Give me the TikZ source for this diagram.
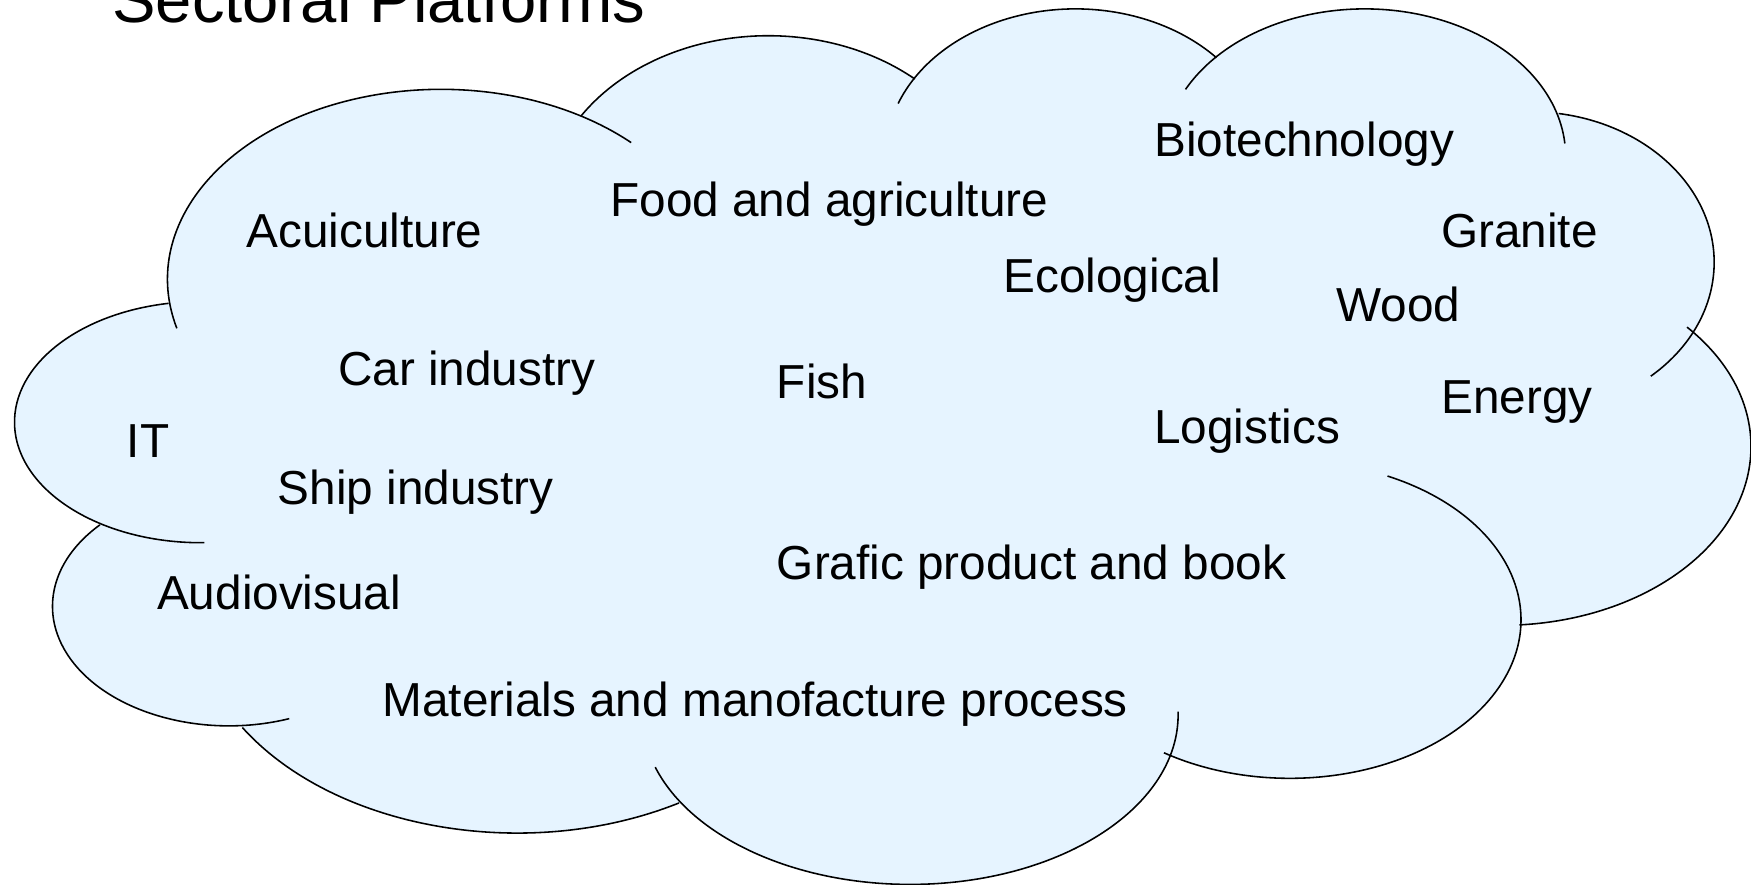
\documentclass[tikz,border=0pt]{standalone}
\usepackage{fontspec}
\setmainfont{Liberation Sans}
\usepackage{tikz}
\usepackage{xcolor}
\usetikzlibrary{positioning}
\definecolor{cloudblue}{RGB}{230,244,255}

\begin{document}
\begin{tikzpicture}[x=0.01cm, y=0.01cm,
                    sector/.style={anchor=base west, inner sep=0pt, font=\fontsize{12.15}{14}\selectfont},
                    rim/.style={black, line width=0.4pt}]
                    % Page size
                    \useasboundingbox (0,0) rectangle (1568,-792);

                    % Fill the cloud: one ellipse per lobe plus the middle
                    \fill[cloudblue] (395,-250) ellipse [x radius=245, y radius=170];
                    \fill[cloudblue] (688,-190) ellipse [x radius=200, y radius=158];
                    \fill[cloudblue] (963,-140) ellipse [x radius=170, y radius=132];
                    \fill[cloudblue] (1222,-140) ellipse [x radius=180, y radius=132];
                    \fill[cloudblue] (1370,-235) ellipse [x radius=165, y radius=135];
                    \fill[cloudblue] (1345,-400) ellipse [x radius=223, y radius=160];
                    \fill[cloudblue] (1155,-555) ellipse [x radius=207, y radius=142];
                    \fill[cloudblue] (815,-640) ellipse [x radius=240, y radius=152];
                    \fill[cloudblue] (463,-545) ellipse [x radius=290, y radius=201];
                    \fill[cloudblue] (205,-543) ellipse [x radius=158, y radius=107];
                    \fill[cloudblue] (180,-378) ellipse [x radius=167, y radius=108];
                    \fill[cloudblue] (518,-103) -- (822,-68) -- (1090,-50) -- (1395,-105) -- (1520,-287)
                        -- (1362,-555) -- (1042,-676) -- (607,-720) -- (222,-650) -- (90,-470) -- (152,-270) -- cycle;

                    % Draw the rim of each lobe
                    \draw[rim] ([shift={(195:245 and 170)}]395,-250) arc[start angle=195, end angle=46, x radius=245, y radius=170];
                    \draw[rim] ([shift={(147:200 and 158)}]688,-190) arc[start angle=147, end angle=49, x radius=200, y radius=158];
                    \draw[rim] ([shift={(159:170 and 132)}]963,-140) arc[start angle=159, end angle=42, x radius=170, y radius=132];
                    \draw[rim] ([shift={(153:180 and 132)}]1222,-140) arc[start angle=153, end angle=5, x radius=180, y radius=132];
                    \draw[rim] ([shift={(81:165 and 135)}]1370,-235) arc[start angle=81, end angle=-49, x radius=165, y radius=135];
                    \draw[rim] ([shift={(42:223 and 160)}]1345,-400) arc[start angle=42, end angle=-86, x radius=223, y radius=160];
                    \draw[rim] ([shift={(65:207 and 142)}]1155,-555) arc[start angle=65, end angle=-123, x radius=207, y radius=142];
                    \draw[rim] ([shift={(1:240 and 152)}]815,-640) arc[start angle=1, end angle=-162, x radius=240, y radius=152];
                    \draw[rim] ([shift={(-60:290 and 201)}]463,-545) arc[start angle=-60, end angle=-148, x radius=290, y radius=201];
                    \draw[rim] ([shift={(-70:158 and 107)}]205,-543) arc[start angle=-70, end angle=-223, x radius=158, y radius=107];
                    \draw[rim] ([shift={(-89:167 and 108)}]180,-378) arc[start angle=-89, end angle=-260, x radius=167, y radius=108];

                    % Title, cut by the top of the page
                    \node[anchor=base west, inner sep=0pt, font=\fontsize{16.6}{20}\selectfont] (title) at (100,-20) {Sectoral Platforms};

                    % Sector names
                    \node[sector] (acui) at (220,-222) {Acuiculture};
                    \node[sector] (food) at (546,-194) {Food and agriculture};
                    \node[sector] (biotech) at (1033,-140) {Biotechnology};
                    \node[sector] (granite) at (1290,-222) {Granite};
                    \node[sector] (eco) at (898,-262) {Ecological};
                    \node[sector] (wood) at (1196,-288) {Wood};
                    \node[sector] (car) at (302,-345) {Car industry};
                    \node[sector] (fish) at (695,-357) {Fish};
                    \node[sector] (it) at (113,-410) {IT};
                    \node[sector] (logist) at (1033,-397) {Logistics};
                    \node[sector] (energy) at (1290,-370) {Energy};
                    \node[sector] (ship) at (248,-452) {Ship industry};
                    \node[sector] (grafic) at (695,-519) {Grafic product and book};
                    \node[sector] (audio) at (140,-546) {Audiovisual};
                    \node[sector] (mater) at (342,-642) {Materials and manofacture process};
                \end{tikzpicture}
\end{document}
